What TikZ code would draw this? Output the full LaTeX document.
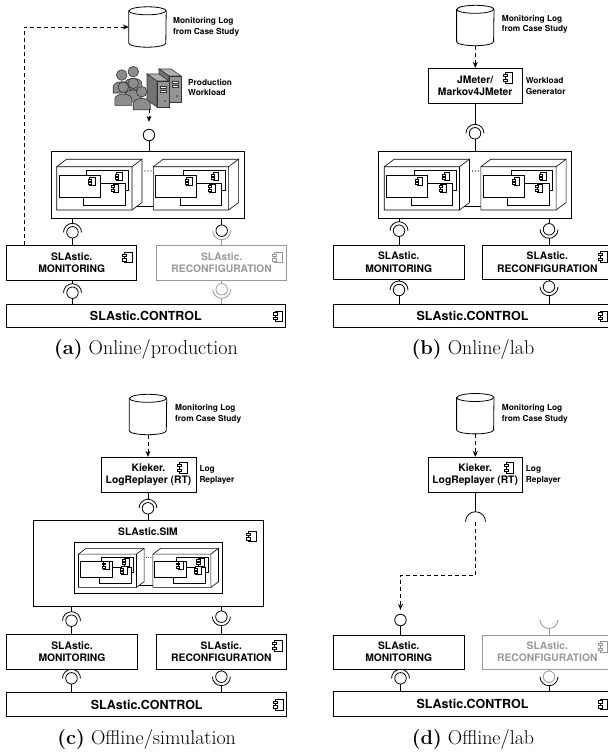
\documentclass[tikz,border=0pt]{standalone}
\usepackage{fontspec}
\setsansfont{TeX Gyre Heros}
\usetikzlibrary{shapes.geometric, arrows.meta, positioning, calc}

\tikzset{
  boxfont/.style={font=\sffamily\bfseries\fontsize{10.3}{12.3}\selectfont},
  box/.style={boxfont, draw, rectangle, fill=white, line width=0.9pt, inner sep=0pt, align=center},
  ctrlbox/.style={box, font=\sffamily\bfseries\fontsize{12.5}{14}\selectfont},
  idle/.style={draw=black!40, text=black!40},
  remark/.style={anchor=west, inner sep=0pt, align=left, font=\sffamily\bfseries\fontsize{8.3}{10.4}\selectfont},
  ball/.style={circle, draw, fill=white, minimum size=11.5pt, inner sep=0pt, line width=0.8pt},
  wire/.style={line width=0.8pt},
  logdb/.style={rectangle, minimum width=37pt, minimum height=40pt, inner sep=0pt},
  uses/.style={->, dash pattern=on 4pt off 3pt, line width=0.9pt},
  subcap/.style={font=\rmfamily\fontsize{20}{22}\selectfont, inner sep=0pt},
  compicon/.pic={
    \draw[fill=white] (-2,-4) rectangle (3.5,4);
    \draw[fill=white] (-3.5,-2.7) rectangle (-0.5,-0.9);
    \draw[fill=white] (-3.5,0.9) rectangle (-0.5,2.7);
  },
  person/.pic={
    \draw[fill=black!45] (-8.5,18) -- (-8.5,12) .. controls (-8.5,5) and (8.5,5) .. (8.5,12) -- (8.5,18) -- cycle;
    \draw[fill=black!45] (0,0) circle (5.3);
  },
}

% drum outline round a logdb node
\newcommand{\drum}[1]{%
  \draw[wire, fill=white] ([yshift=-4pt]#1.north west) -- ([yshift=4pt]#1.south west)
    arc[start angle=180, end angle=360, x radius=18.5pt, y radius=4pt]
    -- ([yshift=-4pt]#1.north east)
    arc[start angle=0, end angle=180, x radius=18.5pt, y radius=4pt] -- cycle;
  \draw[wire] ([yshift=-4pt]#1.north west)
    arc[start angle=180, end angle=360, x radius=18.5pt, y radius=4pt];
}

% assembly connector, socket on top and ball below
% #1 ball, #2 upper node, #3 lower node
\newcommand{\reqtop}[3]{%
  \draw[wire] (#1 |- #2.south) -- ([yshift=9pt]#1.center);
  \draw[wire] ([xshift=-9pt]#1.center) arc[start angle=180, end angle=0, radius=9pt];
  \draw[wire] (#1) -- (#1 |- #3.north);
}
% assembly connector, ball on top and socket below
% #4 colour of the upper half, #5 colour of the lower half
\newcommand{\provtop}[5]{%
  \draw[wire, #4] (#1 |- #2.south) -- (#1);
  \draw[wire, #5] ([xshift=-9pt]#1.center) arc[start angle=180, end angle=360, radius=9pt];
  \draw[wire, #5] ([yshift=-9pt]#1.center) -- (#1 |- #3.north);
}

% two execution environments with three components each (around the origin)
\newcommand{\execenvs}{%
  \draw[line width=0.6pt] (-20,22.2) -- (10,22.2);
  \foreach \dx in {0,96.6} {
    \begin{scope}[shift={(\dx,0)}, line width=0.6pt]
      \draw[fill=white] (-90.8,-17.8) -- (-80.8,-25.3) -- (-5.5,-25.3) -- (-5.5,18)
        -- (-15.5,25.5) -- (-90.8,25.5) -- cycle;
      \draw (-90.8,-17.8) -- (-15.5,-17.8) -- (-5.5,-25.3) (-15.5,-17.8) -- (-15.5,25.5);
      \draw[fill=white] (-60.8,-13.8) rectangle (-19.2,5.5);
      \pic at (-29.2,-7.8) {compicon};
      \draw[fill=white] (-64.2,-1.2) rectangle (-22.5,20.5);
      \pic at (-32.5,3.8) {compicon};
      \draw[fill=white] (-88.5,-8.8) rectangle (-47.5,12.8);
      \pic at (-55.8,-2.8) {compicon};
    \end{scope}
  }
  \fill (-2.5,-13.5) circle (0.6) (0.5,-13.5) circle (0.6) (3.5,-13.5) circle (0.6);
}

\begin{document}
\begin{tikzpicture}[x=1pt, y=-1pt, >={Stealth[length=6pt, width=5pt]}]
  \useasboundingbox (0,0) rectangle (608,753);
  \fill[white] (0,0) rectangle (608,753);
  \clip (0,0) rectangle (608,753);

  %% (a) online, production
  \node[logdb] (loga) at (147.5,27) {};
  \drum{loga}
  \node[remark] (loglabela) at (173,27) {Monitoring Log\\from Case Study};
  % users and servers
  \node[minimum width=70pt, minimum height=41pt, inner sep=0pt] (wla) at (147.5,88) {};
  \begin{scope}[line width=0.6pt, draw=black!80]
    \foreach \x/\y in {169/76, 157/81} {
      \draw[fill=black!30] (\x,\y) -- (\x-10,\y-7) -- (\x+2,\y-7) -- (\x+12,\y) -- cycle;
      \draw[fill=black!55] (\x,\y) -- (\x-10,\y-7) -- (\x-10,\y+19) -- (\x,\y+26) -- cycle;
      \draw[fill=black!42] (\x,\y) rectangle (\x+12,\y+26);
      \draw[fill=white] (\x+3,\y+5) rectangle (\x+9,\y+7);
      \draw[fill=white] (\x+3,\y+9) rectangle (\x+9,\y+11);
      \fill[black!80] (\x+8,\y+20) circle (0.9);
    }
    \foreach \x/\y in {133.3/71.7, 121.7/75, 133.3/83.3, 123.3/87.3, 141.7/91.7}
      \pic at (\x,\y) {person};
  \end{scope}
  \node[remark] (wllabela) at (188,87.5) {Production\\Workload};

  \node[box, minimum width=193pt, minimum height=67pt] (conta) at (147.5,184.5) {};
  \begin{scope}[shift={(conta.center)}]
    \execenvs
  \end{scope}
  \node[ball] (b0a) at (149,135) {};
  \draw[uses, shorten >=7pt] (wla.south -| b0a) -- (b0a);
  \draw[wire] (b0a) -- (b0a |- conta.north);

  \node[box, minimum width=130pt, minimum height=34.3pt] (mona) at (71.7,262.9) {SLAstic.\\MONITORING};
  \pic[scale=1.3] at ([shift={(-10,12)}]mona.north east) {compicon};
  \node[box, idle, minimum width=130pt, minimum height=34.3pt] (reca) at (221.7,262.9) {SLAstic.\\RECONFIGURATION};
  \pic[scale=1.3, draw=black!40] at ([shift={(-10,12)}]reca.north east) {compicon};
  \node[ctrlbox, minimum width=278.3pt, minimum height=23.7pt] (ctrla) at (145.9,315.9) {SLAstic.CONTROL};
  \pic[scale=1.3] at ([xshift=-8pt]ctrla.east) {compicon};

  \node[ball] (b1a) at (72.5,232.3) {};
  \reqtop{b1a}{conta}{mona}
  \node[ball] (b2a) at (221.7,230.7) {};
  \provtop{b2a}{conta}{reca}{black}{black!40}
  \node[ball] (b3a) at (72.5,292.7) {};
  \reqtop{b3a}{mona}{ctrla}
  \node[ball, idle] (b4a) at (221.7,289.3) {};
  \provtop{b4a}{reca}{ctrla}{black!40}{black!40}

  \draw[uses] ([xshift=18.3pt]mona.north west) |- (loga.west);
  \node[subcap] (capa) at (146,350) {\textbf{(a)} Online/production};

  %% (b) online, lab
  \node[logdb] (logb) at (475.3,25.5) {};
  \drum{logb}
  \node[remark] (loglabelb) at (501.7,24.5) {Monitoring Log\\from Case Study};
  \node[box, minimum width=94.3pt, minimum height=35pt] (jmb) at (475.2,85.8) {JMeter/\\Markov4JMeter};
  \pic[scale=1.3] at ([shift={(-15,10)}]jmb.north east) {compicon};
  \node[remark] (genlabelb) at (525.7,86) {Workload\\Generator};
  \draw[uses] (logb) -- (logb |- jmb.north);

  \node[box, minimum width=193pt, minimum height=67pt] (contb) at (475,184.5) {};
  \begin{scope}[shift={(contb.center)}]
    \execenvs
  \end{scope}
  \node[ball] (b0b) at (475,133.3) {};
  \reqtop{b0b}{jmb}{contb}

  \node[box, minimum width=130.7pt, minimum height=34.3pt] (monb) at (398.7,262.2) {SLAstic.\\MONITORING};
  \node[box, minimum width=130pt, minimum height=34.3pt] (recb) at (547.3,262.2) {SLAstic.\\RECONFIGURATION};
  \pic[scale=1.3] at ([shift={(-10,12)}]recb.north east) {compicon};
  \node[ctrlbox, minimum width=278.3pt, minimum height=23.7pt] (ctrlb) at (472.5,315.9) {SLAstic.CONTROL};
  \pic[scale=1.3] at ([xshift=-9pt]ctrlb.east) {compicon};

  \node[ball] (b1b) at (399,230.7) {};
  \reqtop{b1b}{contb}{monb}
  \node[ball] (b2b) at (549,229.3) {};
  \provtop{b2b}{contb}{recb}{black}{black}
  \node[ball] (b3b) at (399,290) {};
  \reqtop{b3b}{monb}{ctrlb}
  \node[ball] (b4b) at (549,286.7) {};
  \provtop{b4b}{recb}{ctrlb}{black}{black}
  \node[subcap] (capb) at (473,350) {\textbf{(b)} Online/lab};

  %% (c) offline, simulation
  \node[logdb] (logc) at (148,414.5) {};
  \drum{logc}
  \node[remark] (loglabelc) at (175,413.7) {Monitoring Log\\from Case Study};
  \node[box, minimum width=95pt, minimum height=35pt] (kic) at (148.5,474.8) {Kieker.\\LogReplayer (RT)};
  \pic[scale=1.3] at ([shift={(-14.3,11)}]kic.north east) {compicon};
  \node[remark] (replabelc) at (199.3,475) {Log\\Replayer};
  \draw[uses] (logc) -- (logc |- kic.north);

  \node[box, minimum width=230pt, minimum height=85.3pt] (simc) at (148.3,563.4) {};
  \node[boxfont, inner sep=0pt] (simtitlec) at (148,531.7) {SLAstic.SIM};
  \pic[scale=1.3] at ([shift={(-12.6,16)}]simc.north east) {compicon};
  \node[box, line width=0.8pt, minimum width=148.6pt, minimum height=51.6pt] (innc) at (148.4,567.8) {};
  \begin{scope}[shift={(innc.center)}, scale=0.77]
    \execenvs
  \end{scope}
  \node[ball] (b0c) at (148,508.3) {};
  \reqtop{b0c}{kic}{simc}

  \node[box, minimum width=130.6pt, minimum height=35pt] (monc) at (72,651.5) {SLAstic.\\MONITORING};
  \node[box, minimum width=130.7pt, minimum height=35pt] (recc) at (221.4,651.5) {SLAstic.\\RECONFIGURATION};
  \pic[scale=1.3] at ([shift={(-10,12)}]recc.north east) {compicon};
  \node[ctrlbox, minimum width=280pt, minimum height=24.4pt] (ctrlc) at (146.7,704.5) {SLAstic.CONTROL};
  \pic[scale=1.3] at ([xshift=-9pt]ctrlc.east) {compicon};

  \node[ball] (b1c) at (71.5,620.7) {};
  \reqtop{b1c}{simc}{monc}
  \node[ball] (b2c) at (221.4,616.7) {};
  \provtop{b2c}{simc}{recc}{black}{black}
  \node[ball] (b3c) at (71.5,678.3) {};
  \reqtop{b3c}{monc}{ctrlc}
  \node[ball] (b4c) at (221.4,676.7) {};
  \provtop{b4c}{recc}{ctrlc}{black}{black}
  \node[subcap] (capc) at (146.7,740) {\textbf{(c)} Offline/simulation};

  %% (d) offline, lab
  \node[logdb] (logd) at (475.3,413.7) {};
  \drum{logd}
  \node[remark] (loglabeld) at (501.7,413.7) {Monitoring Log\\from Case Study};
  \node[box, minimum width=94.3pt, minimum height=35pt] (kid) at (475.2,474.8) {Kieker.\\LogReplayer (RT)};
  \pic[scale=1.3] at ([shift={(-14.3,11)}]kid.north east) {compicon};
  \node[remark] (replabeld) at (525.7,475) {Log\\Replayer};
  \draw[uses] (logd) -- (logd |- kid.north);

  % open socket of the replayer
  \coordinate (sd) at (475.5,521.7);
  \draw[wire] (sd |- kid.south) -- ([yshift=10pt]sd);
  \draw[wire] ([xshift=-10pt]sd) arc[start angle=180, end angle=0, radius=10pt];

  \node[box, minimum width=130.7pt, minimum height=34pt] (mond) at (398.7,652) {SLAstic.\\MONITORING};
  \node[box, idle, minimum width=130pt, minimum height=34pt] (recd) at (547.3,652) {SLAstic.\\RECONFIGURATION};
  \pic[scale=1.3, draw=black!40] at ([shift={(-10,12)}]recd.north east) {compicon};
  \node[ctrlbox, minimum width=278.3pt, minimum height=25pt] (ctrld) at (472.5,704.2) {SLAstic.CONTROL};
  \pic[scale=1.3] at ([xshift=-9pt]ctrld.east) {compicon};

  \node[ball] (b1d) at (400.5,620) {};
  \draw[uses, shorten >=4pt] (sd) -- ++(0,53.3) -| (b1d);
  \draw[wire] (b1d) -- (b1d |- mond.north);
  \coordinate (s2d) at (549,619.5);
  \draw[wire, black!40] ([xshift=-9pt]s2d) arc[start angle=180, end angle=360, radius=9pt];
  \draw[wire, black!40] ([yshift=-9pt]s2d) -- (s2d |- recd.north);
  \node[ball] (b3d) at (400.5,678.3) {};
  \reqtop{b3d}{mond}{ctrld}
  \node[ball, idle] (b4d) at (549,676.7) {};
  \provtop{b4d}{recd}{ctrld}{black!40}{black}
  \node[subcap] (capd) at (473,740) {\textbf{(d)} Offline/lab};
\end{tikzpicture}
\end{document}
